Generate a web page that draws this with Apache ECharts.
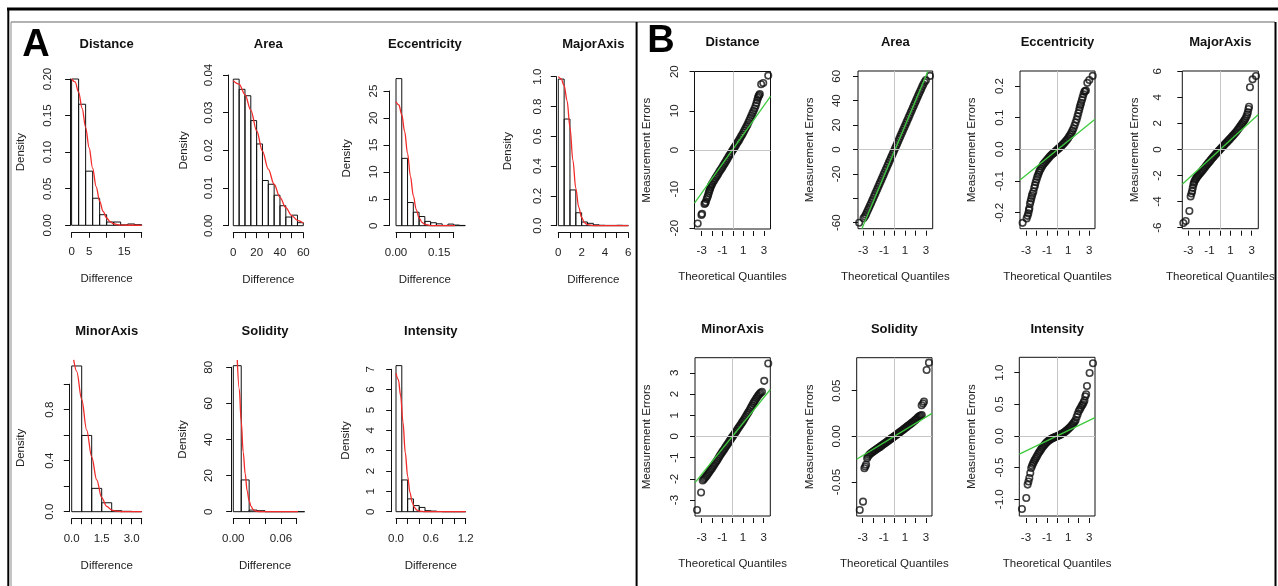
<!DOCTYPE html>
<html>
<head>
<meta charset="utf-8">
<title>Measurement error distributions</title>
<script src="https://cdn.jsdelivr.net/npm/echarts@6/dist/echarts.min.js"></script>
<style>
  html, body { margin: 0; padding: 0; background: #fff; }
  #chart { width: 1278px; height: 586px; }
</style>
</head>
<body>
<div id="chart"></div>
<script>
// ---------------- Panel A: histograms of absolute differences ----------------
const distanceBreaks = [0, 2, 4, 6, 8, 10, 12, 14, 16, 18, 20];
const distanceDensity = [0.200, 0.1655, 0.074, 0.037, 0.0145, 0.0045, 0.0045, 0.0005, 0.0018, 0.0008];
const distanceCurve = [[0, 0.2], [1, 0.196], [2, 0.182], [3, 0.16], [4, 0.134], [5, 0.106], [6, 0.078], [7, 0.053], [8, 0.033], [9, 0.019], [10, 0.010], [11, 0.005], [12, 0.0022], [13, 0.0009], [14, 0.0003], [16, 0.00005], [20, 0]];
const distanceXTicks = [0, 5, 10, 15, 20];
const distanceXLabels = ['0', '5', '', '15', ''];
const distanceYTicks = [0, 0.05, 0.1, 0.15, 0.2];
const distanceYLabels = ['0.00', '0.05', '0.10', '0.15', '0.20'];

const areaBreaks = [0, 5, 10, 15, 20, 25, 30, 35, 40, 45, 50, 55, 60];
const areaDensity = [0.0389, 0.0362, 0.0345, 0.0279, 0.0217, 0.0120, 0.0110, 0.0081, 0.0053, 0.0023, 0.0028, 0.0008];
const areaCurve = [[0, 0.0385], [5, 0.0376], [10, 0.0348], [15, 0.0307], [20, 0.0252], [25, 0.0198], [30, 0.0150], [35, 0.0110], [40, 0.0075], [45, 0.0048], [50, 0.0027], [55, 0.0014], [60, 0.0007]];
const areaXTicks = [0, 10, 20, 30, 40, 50, 60];
const areaXLabels = ['0', '', '20', '', '40', '', '60'];
const areaYTicks = [0, 0.01, 0.02, 0.03, 0.04];
const areaYLabels = ['0.00', '0.01', '0.02', '0.03', '0.04'];

const eccBreaks = [0, 0.02, 0.04, 0.06, 0.08, 0.10, 0.12, 0.14, 0.16, 0.18, 0.20, 0.22, 0.24];
const eccDensity = [27.3, 12.5, 4.3, 2.5, 1.7, 0.8, 0.55, 0.35, 0.05, 0.3, 0.12, 0.05];
const eccCurve = [[0, 23.0], [0.01, 22.4], [0.02, 20.6], [0.03, 17.5], [0.04, 13.4], [0.05, 9.2], [0.06, 5.6], [0.07, 3.0], [0.08, 1.45], [0.09, 0.62], [0.10, 0.24], [0.12, 0.03], [0.15, 0.002], [0.243, 0]];
const eccXTicks = [0, 0.05, 0.10, 0.15, 0.20];
const eccXLabels = ['0.00', '', '', '0.15', ''];
const eccYTicks = [0, 5, 10, 15, 20, 25];
const eccYLabels = ['0', '5', '10', '15', '20', '25'];

const majorBreaks = [0, 0.5, 1, 1.5, 2, 2.5, 3, 3.5, 4, 4.5, 5, 5.5, 6];
const majorDensity = [0.984, 0.716, 0.24, 0.087, 0.025, 0.016, 0.006, 0.003, 0.002, 0.002, 0.003, 0.002];
const majorCurve = [[0, 1.0], [0.25, 0.985], [0.5, 0.94], [0.75, 0.84], [1.0, 0.66], [1.25, 0.44], [1.5, 0.25], [1.75, 0.125], [2.0, 0.055], [2.25, 0.02], [2.5, 0.007], [3.0, 0.001], [6, 0]];
const majorXTicks = [0, 1, 2, 3, 4, 5, 6];
const majorXLabels = ['0', '', '2', '', '4', '', '6'];
const majorYTicks = [0, 0.2, 0.4, 0.6, 0.8, 1.0];
const majorYLabels = ['0.0', '0.2', '0.4', '0.6', '0.8', '1.0'];

const minorBreaks = [0, 0.5, 1, 1.5, 2, 2.5, 3, 3.5];
const minorDensity = [1.143, 0.598, 0.183, 0.07, 0.008, 0.003, 0.001];
const minorCurve = [[0.1, 1.19], [0.25, 1.1], [0.5, 0.88], [0.75, 0.64], [1.0, 0.43], [1.25, 0.25], [1.5, 0.11], [1.75, 0.042], [2.0, 0.013], [2.25, 0.004], [2.5, 0.001], [3.5, 0]];
const minorXTicks = [0, 0.5, 1, 1.5, 2, 2.5, 3, 3.5];
const minorXLabels = ['0.0', '', '', '1.5', '', '', '3.0', ''];
const minorYTicks = [0, 0.2, 0.4, 0.6, 0.8, 1.0];
const minorYLabels = ['0.0', '', '0.4', '', '0.8', ''];

const solidityBreaks = [0, 0.01, 0.02, 0.03, 0.04, 0.05, 0.06, 0.07, 0.08, 0.09];
const solidityDensity = [80.9, 17.6, 0.9, 0.55, 0, 0, 0, 0, 0];
const solidityCurve = [[0.005, 84], [0.0075, 68], [0.01, 50], [0.0125, 33], [0.015, 21], [0.0175, 11.5], [0.02, 6], [0.0225, 2.9], [0.025, 1.3], [0.0275, 0.5], [0.03, 0.2], [0.035, 0.02], [0.088, 0]];
const solidityXTicks = [0, 0.02, 0.04, 0.06, 0.08];
const solidityXLabels = ['0.00', '', '', '0.06', ''];
const solidityYTicks = [0, 20, 40, 60, 80];
const solidityYLabels = ['0', '20', '40', '60', '80'];

const intensityBreaks = [0, 0.1, 0.2, 0.3, 0.4, 0.5, 0.6, 0.7, 0.8, 0.9, 1.0, 1.1, 1.2];
const intensityDensity = [7.18, 1.56, 0.63, 0.3, 0.21, 0.05, 0.03, 0.01, 0, 0, 0, 0];
const intensityCurve = [[0, 6.8], [0.04, 6.5], [0.08, 5.7], [0.12, 4.4], [0.16, 2.9], [0.2, 1.75], [0.24, 0.95], [0.28, 0.45], [0.32, 0.2], [0.36, 0.08], [0.4, 0.03], [0.5, 0.002], [1.2, 0]];
const intensityXTicks = [0, 0.2, 0.4, 0.6, 0.8, 1.0, 1.2];
const intensityXLabels = ['0.0', '', '', '0.6', '', '', '1.2'];
const intensityYTicks = [0, 1, 2, 3, 4, 5, 6, 7];
const intensityYLabels = ['0', '1', '2', '3', '4', '5', '6', '7'];

// ---------------- Panel B: normal Q-Q plots of signed errors ----------------
const qqXTicks = [-3, -2, -1, 0, 1, 2, 3];
const qqXLabels = ['-3', '', '-1', '', '1', '', '3'];

const distanceQQ = [[-3.38, -18.8], [-3.02, -16.6], [-2.96, -16.3], [-2.73, -13.8], [-2.66, -13.6], [-2.6, -13.3], [-2.52, -12.6], [-2.45, -12.1], [-2.38, -11.6], [-2.32, -11.0], [-2.26, -10.5], [-2.2, -10.0], [-2.15, -9.6], [-2.1, -9.2], [-2.05, -8.9],
  [-2.0, -8.7], [-1.9, -8.2], [-1.8, -7.8], [-1.7, -7.3], [-1.6, -6.9], [-1.5, -6.5], [-1.4, -6.1], [-1.3, -5.6], [-1.2, -5.2], [-1.1, -4.8], [-1.0, -4.4], [-0.9, -3.9], [-0.8, -3.5], [-0.7, -3.1], [-0.6, -2.6], [-0.5, -2.2], [-0.4, -1.7], [-0.3, -1.3], [-0.2, -0.9], [-0.1, -0.4],
  [0, 0], [0.1, 0.4], [0.2, 0.8], [0.3, 1.2], [0.4, 1.7], [0.5, 2.1], [0.6, 2.5], [0.7, 3.0], [0.8, 3.5], [0.9, 3.9], [1.0, 4.4], [1.1, 4.9], [1.2, 5.4], [1.3, 5.9], [1.4, 6.4], [1.5, 7.0], [1.6, 7.6], [1.7, 8.2], [1.8, 8.8], [1.9, 9.4],
  [2.0, 10.0], [2.1, 10.6], [2.2, 11.3], [2.28, 12.0], [2.35, 12.7], [2.42, 13.3], [2.48, 13.7], [2.54, 14.0], [2.6, 14.3], [2.73, 16.8], [2.93, 17.1], [3.41, 19.0]];
const distanceQQLine = [[-3.69, -13.6], [3.63, 13.7]];
const distanceQQYTicks = [-20, -10, 0, 10, 20];
const distanceQQYLabels = ['-20', '-10', '0', '10', '20'];

const areaQQ = [[-3.39, -60.0], [-2.97, -56.4], [-2.85, -55.0], [-2.75, -53.4], [-2.65, -51.5], [-2.55, -49.6], [-2.45, -47.8], [-2.35, -45.9], [-2.25, -44.0], [-2.15, -42.1], [-2.05, -40.1], [-1.95, -38.2], [-1.85, -36.2], [-1.75, -34.3], [-1.65, -32.3], [-1.55, -30.3], [-1.45, -28.4], [-1.35, -26.4], [-1.25, -24.5], [-1.15, -22.5], [-1.05, -20.6], [-0.95, -18.6], [-0.85, -16.7], [-0.75, -14.7], [-0.65, -12.8], [-0.55, -10.8], [-0.45, -8.9], [-0.35, -6.9], [-0.25, -5.0], [-0.15, -3.0], [-0.05, -1.1],
  [0.05, 0.9], [0.15, 2.9], [0.25, 4.8], [0.35, 6.8], [0.45, 8.7], [0.55, 10.7], [0.65, 12.6], [0.75, 14.6], [0.85, 16.5], [0.95, 18.5], [1.05, 20.4], [1.15, 22.4], [1.25, 24.3], [1.35, 26.3], [1.45, 28.3], [1.55, 30.2], [1.65, 32.2], [1.75, 34.1], [1.85, 36.1], [1.95, 38.0], [2.05, 40.0], [2.15, 41.9], [2.25, 43.9], [2.35, 45.8], [2.45, 47.7], [2.55, 49.6], [2.65, 51.5], [2.75, 53.3], [2.87, 55.2], [3.0, 56.8], [3.39, 60.3]];
const areaQQLine = [[-3.13, -64.9], [3.19, 64.1]];
const areaQQYTicks = [-60, -40, -20, 0, 20, 40, 60];
const areaQQYLabels = ['-60', '', '-20', '0', '20', '40', '60'];

const eccQQ = [[-3.32, -0.232], [-2.94, -0.218], [-2.85, -0.21], [-2.78, -0.202], [-2.72, -0.192], [-2.68, -0.186], [-2.62, -0.172], [-2.56, -0.164], [-2.5, -0.155], [-2.44, -0.147], [-2.38, -0.14], [-2.3, -0.133], [-2.22, -0.121], [-2.15, -0.113], [-2.08, -0.104], [-2.0, -0.095], [-1.93, -0.087], [-1.85, -0.08], [-1.77, -0.073], [-1.7, -0.067], [-1.6, -0.061], [-1.5, -0.055], [-1.4, -0.049], [-1.3, -0.045], [-1.2, -0.041], [-1.1, -0.037], [-1.0, -0.033], [-0.9, -0.029], [-0.8, -0.025], [-0.7, -0.021], [-0.6, -0.018], [-0.5, -0.015], [-0.4, -0.012], [-0.3, -0.009], [-0.2, -0.006], [-0.1, -0.003],
  [0, 0], [0.1, 0.003], [0.2, 0.006], [0.3, 0.009], [0.4, 0.012], [0.5, 0.016], [0.6, 0.019], [0.7, 0.023], [0.8, 0.027], [0.9, 0.031], [1.0, 0.036], [1.1, 0.041], [1.2, 0.046], [1.3, 0.052], [1.4, 0.059], [1.5, 0.066], [1.6, 0.075], [1.7, 0.085], [1.8, 0.094], [1.88, 0.104], [1.96, 0.114], [2.04, 0.124], [2.1, 0.133], [2.16, 0.14], [2.22, 0.147], [2.3, 0.156], [2.37, 0.164], [2.45, 0.174], [2.53, 0.182], [2.6, 0.184], [2.68, 0.186], [2.81, 0.21], [3.0, 0.219], [3.32, 0.232]];
const eccQQLine = [[-3.57, -0.097], [3.54, 0.095]];
const eccQQYTicks = [-0.2, -0.1, 0, 0.1, 0.2];
const eccQQYLabels = ['-0.2', '-0.1', '0.0', '0.1', '0.2'];

const majorQQ = [[-3.47, -5.64], [-3.25, -5.49], [-2.9, -4.72], [-2.78, -3.6], [-2.7, -3.38], [-2.64, -3.2], [-2.58, -2.95], [-2.52, -2.7], [-2.46, -2.55], [-2.4, -2.42], [-2.32, -2.3], [-2.24, -2.2], [-2.16, -2.1], [-2.08, -2.02], [-2.0, -1.94], [-1.9, -1.85], [-1.8, -1.75], [-1.7, -1.65], [-1.6, -1.55], [-1.5, -1.45], [-1.4, -1.35], [-1.3, -1.24], [-1.2, -1.13], [-1.1, -1.03], [-1.0, -0.94], [-0.9, -0.84], [-0.8, -0.74], [-0.7, -0.64], [-0.6, -0.55], [-0.5, -0.45], [-0.4, -0.36], [-0.3, -0.27], [-0.2, -0.18], [-0.1, -0.09],
  [0, 0], [0.1, 0.09], [0.2, 0.17], [0.3, 0.26], [0.4, 0.34], [0.5, 0.43], [0.6, 0.51], [0.7, 0.6], [0.8, 0.68], [0.9, 0.77], [1.0, 0.86], [1.1, 0.95], [1.2, 1.04], [1.3, 1.13], [1.4, 1.22], [1.5, 1.32], [1.6, 1.42], [1.7, 1.53], [1.8, 1.64], [1.9, 1.75], [2.0, 1.87], [2.1, 1.98], [2.2, 2.1], [2.3, 2.22], [2.4, 2.36], [2.5, 2.52], [2.58, 2.68], [2.64, 2.86], [2.7, 3.1], [2.75, 3.28], [2.84, 4.77], [3.09, 5.38], [3.41, 5.64]];
const majorQQLine = [[-3.57, -2.67], [3.63, 2.69]];
const majorQQYTicks = [-6, -4, -2, 0, 2, 4, 6];
const majorQQYLabels = ['-6', '-4', '-2', '0', '2', '4', '6'];

const minorQQ = [[-3.45, -3.47], [-3.06, -2.64], [-2.9, -2.08], [-2.8, -2.02], [-2.7, -1.96], [-2.6, -1.9], [-2.5, -1.84], [-2.4, -1.77], [-2.3, -1.7], [-2.2, -1.63], [-2.1, -1.56], [-2.0, -1.5], [-1.9, -1.42], [-1.8, -1.35], [-1.7, -1.27], [-1.6, -1.19], [-1.5, -1.12], [-1.4, -1.04], [-1.3, -0.96], [-1.2, -0.88], [-1.1, -0.81], [-1.0, -0.73], [-0.9, -0.66], [-0.8, -0.59], [-0.7, -0.51], [-0.6, -0.44], [-0.5, -0.37], [-0.4, -0.3], [-0.3, -0.22], [-0.2, -0.15], [-0.1, -0.07],
  [0, 0], [0.1, 0.07], [0.2, 0.14], [0.3, 0.21], [0.4, 0.28], [0.5, 0.36], [0.6, 0.43], [0.7, 0.5], [0.8, 0.57], [0.9, 0.65], [1.0, 0.72], [1.1, 0.8], [1.2, 0.88], [1.3, 0.96], [1.4, 1.04], [1.5, 1.12], [1.6, 1.2], [1.7, 1.29], [1.8, 1.38], [1.9, 1.47], [2.0, 1.56], [2.1, 1.64], [2.2, 1.72], [2.3, 1.8], [2.4, 1.87], [2.5, 1.94], [2.6, 2.0], [2.7, 2.05], [2.84, 2.1], [3.06, 2.62], [3.45, 3.44]];
const minorQQLine = [[-3.65, -2.18], [3.65, 2.21]];
const minorQQYTicks = [-3, -2, -1, 0, 1, 2, 3];
const minorQQYLabels = ['-3', '-2', '-1', '0', '1', '2', '3'];

const solidityQQ = [[-3.28, -0.0807], [-2.97, -0.0715], [-2.84, -0.035], [-2.76, -0.033], [-2.68, -0.031], [-2.58, -0.024], [-2.5, -0.022], [-2.4, -0.0205], [-2.3, -0.0193], [-2.2, -0.0183], [-2.1, -0.0175], [-2.0, -0.0167], [-1.9, -0.0158], [-1.8, -0.015], [-1.7, -0.0142], [-1.6, -0.0134], [-1.5, -0.0126], [-1.4, -0.0118], [-1.3, -0.011], [-1.2, -0.0101], [-1.1, -0.0093], [-1.0, -0.0084], [-0.9, -0.0076], [-0.8, -0.0067], [-0.7, -0.0059], [-0.6, -0.005], [-0.5, -0.0042], [-0.4, -0.0033], [-0.3, -0.0025], [-0.2, -0.0017], [-0.1, -0.0008],
  [0, 0], [0.1, 0.0009], [0.2, 0.0017], [0.3, 0.0026], [0.4, 0.0035], [0.5, 0.0043], [0.6, 0.0052], [0.7, 0.0061], [0.8, 0.007], [0.9, 0.0079], [1.0, 0.0088], [1.1, 0.0097], [1.2, 0.0106], [1.3, 0.0115], [1.4, 0.0124], [1.5, 0.0133], [1.6, 0.0142], [1.7, 0.0151], [1.8, 0.016], [1.9, 0.017], [2.0, 0.018], [2.1, 0.019], [2.2, 0.0202], [2.3, 0.0213], [2.4, 0.0222], [2.5, 0.0228], [2.6, 0.0234], [2.59, 0.034], [2.72, 0.036], [2.81, 0.038], [3.06, 0.0726], [3.28, 0.0807]];
const solidityQQLine = [[-3.57, -0.025], [3.57, 0.0252]];
const solidityQQYTicks = [-0.05, 0, 0.05];
const solidityQQYLabels = ['-0.05', '0.00', '0.05'];

const intensityQQ = [[-3.38, -1.153], [-2.97, -0.979], [-2.84, -0.768], [-2.76, -0.72], [-2.68, -0.663], [-2.59, -0.584], [-2.5, -0.505], [-2.42, -0.47], [-2.34, -0.44], [-2.26, -0.41], [-2.18, -0.385], [-2.1, -0.36], [-2.0, -0.33], [-1.9, -0.3], [-1.8, -0.27], [-1.7, -0.245], [-1.6, -0.22], [-1.5, -0.195], [-1.4, -0.172], [-1.3, -0.15], [-1.2, -0.13], [-1.1, -0.112], [-1.0, -0.095], [-0.9, -0.08], [-0.8, -0.067], [-0.7, -0.055], [-0.6, -0.045], [-0.5, -0.037], [-0.4, -0.029], [-0.3, -0.021], [-0.2, -0.014], [-0.1, -0.007],
  [0, 0], [0.1, 0.008], [0.2, 0.016], [0.3, 0.025], [0.4, 0.034], [0.5, 0.044], [0.6, 0.055], [0.7, 0.067], [0.8, 0.08], [0.9, 0.095], [1.0, 0.11], [1.1, 0.126], [1.2, 0.143], [1.3, 0.162], [1.4, 0.182], [1.5, 0.203], [1.6, 0.226], [1.7, 0.25], [1.8, 0.3], [1.9, 0.345], [2.0, 0.39], [2.1, 0.42], [2.2, 0.45], [2.3, 0.48], [2.38, 0.5], [2.46, 0.53], [2.54, 0.56], [2.62, 0.626], [2.7, 0.66], [2.78, 0.79], [3.03, 0.995], [3.35, 1.15]];
const intensityQQLine = [[-3.63, -0.287], [3.54, 0.289]];
const intensityQQYTicks = [-1, -0.5, 0, 0.5, 1];
const intensityQQYLabels = ['-1.0', '-0.5', '0.0', '0.5', '1.0'];

// ---------------- styling ----------------
const FONT = '"Liberation Sans", Arial, Helvetica, sans-serif';
const INK = '#111';
const TEXT = '#222';
const RED = '#f22a2a';
const GREEN = '#3dc93d';
const GUIDE = '#c6c6c6';
const TICK_FONT = 11.5;

function labelLookup(ticks, labels) {
  return function (v) {
    for (let i = 0; i < ticks.length; i++) {
      if (Math.abs(ticks[i] - v) < 1e-9) return labels[i];
    }
    return '';
  };
}

function histBar(params, api) {
  const a = api.coord([api.value(0), api.value(2)]);
  const b = api.coord([api.value(1), 0]);
  return {
    type: 'rect',
    shape: { x: a[0], y: a[1], width: b[0] - a[0], height: b[1] - a[1] },
    style: { fill: 'none', stroke: INK, lineWidth: 1 }
  };
}

const grids = [], xAxes = [], yAxes = [], series = [];
const graphics = [];

function title(text, x, y) {
  graphics.push({
    type: 'text', x: x, y: y, silent: true,
    style: { text: text, fill: INK, font: 'bold 13px ' + FONT, textAlign: 'center', textVerticalAlign: 'middle' }
  });
}

function axisName(text) {
  return { name: text, nameLocation: 'middle', nameTextStyle: { color: TEXT, fontSize: TICK_FONT, fontFamily: FONT } };
}

// one histogram with its density curve
function addHist(p) {
  const gi = grids.length;
  grids.push({ left: p.left, top: p.top, width: p.width, height: p.height, outerBoundsMode: 'none', containLabel: false });
  xAxes.push(Object.assign({
    gridIndex: gi, type: 'value',
    min: p.xTicks[0], max: p.xTicks[p.xTicks.length - 1],
    interval: p.xTicks[1] - p.xTicks[0],
    offset: p.xOffset,
    axisLine: { show: true, onZero: false, lineStyle: { color: INK, width: 1 } },
    axisTick: { show: true, length: 5.5, customValues: p.xTicks, lineStyle: { color: INK, width: 1 } },
    axisLabel: { customValues: p.xTicks, formatter: labelLookup(p.xTicks, p.xLabels), margin: 14, color: TEXT, fontSize: TICK_FONT, fontFamily: FONT, showMinLabel: true, showMaxLabel: true, hideOverlap: false },
    splitLine: { show: false }, nameGap: 41
  }, axisName('Difference')));
  yAxes.push(Object.assign({
    gridIndex: gi, type: 'value',
    min: p.yTicks[0], max: p.yTicks[p.yTicks.length - 1],
    interval: p.yTicks[1] - p.yTicks[0],
    offset: p.yOffset,
    axisLine: { show: true, onZero: false, lineStyle: { color: INK, width: 1 } },
    axisTick: { show: true, length: 5.5, customValues: p.yTicks, lineStyle: { color: INK, width: 1 } },
    axisLabel: { customValues: p.yTicks, formatter: labelLookup(p.yTicks, p.yLabels), rotate: 90, margin: p.yLabelMargin, color: TEXT, fontSize: TICK_FONT, fontFamily: FONT, showMinLabel: true, showMaxLabel: true, hideOverlap: false },
    splitLine: { show: false }, nameGap: p.yNameGap
  }, axisName('Density')));
  series.push({
    type: 'custom', xAxisIndex: gi, yAxisIndex: gi, clip: false, silent: true, z: 2,
    renderItem: histBar, encode: { x: [0, 1], y: 2 },
    data: p.heights.map((h, i) => [p.breaks[i], p.breaks[i + 1], h])
  });
  series.push({
    type: 'line', xAxisIndex: gi, yAxisIndex: gi, clip: false, silent: true, z: 3,
    data: p.curve, smooth: 0.35, smoothMonotone: 'x', symbol: 'none',
    lineStyle: { color: RED, width: 1.3 }
  });
  title(p.title, p.left + p.width / 2, p.titleY);
}

// one normal Q-Q plot with reference line
function addQQ(p) {
  const gi = grids.length;
  grids.push({ left: p.left, top: p.top, width: p.width, height: p.height, show: true, borderColor: INK, borderWidth: 1, backgroundColor: 'transparent', outerBoundsMode: 'none', containLabel: false });
  xAxes.push(Object.assign({
    gridIndex: gi, type: 'value', min: p.xRange[0], max: p.xRange[1], offset: 2,
    axisLine: { show: false, onZero: false },
    axisTick: { show: true, length: 5, customValues: qqXTicks, lineStyle: { color: INK, width: 1 } },
    axisLabel: { customValues: qqXTicks, formatter: labelLookup(qqXTicks, qqXLabels), margin: 14, color: TEXT, fontSize: TICK_FONT, fontFamily: FONT, hideOverlap: false },
    splitLine: { show: false }, nameGap: 40
  }, axisName('Theoretical Quantiles')));
  yAxes.push(Object.assign({
    gridIndex: gi, type: 'value', min: p.yRange[0], max: p.yRange[1],
    axisLine: { show: false, onZero: false },
    axisTick: { show: true, length: 5, customValues: p.yTicks, lineStyle: { color: INK, width: 1 } },
    axisLabel: { customValues: p.yTicks, formatter: labelLookup(p.yTicks, p.yLabels), rotate: 90, margin: p.yLabelMargin, color: TEXT, fontSize: TICK_FONT, fontFamily: FONT, hideOverlap: false },
    splitLine: { show: false }, nameGap: p.yNameGap
  }, axisName('Measurement Errors')));
  // light guides through the origin
  series.push({
    type: 'scatter', xAxisIndex: gi, yAxisIndex: gi, silent: true, z: 1,
    data: [[0, 0]], symbolSize: 0,
    markLine: {
      silent: true, symbol: ['none', 'none'], label: { show: false }, animation: false,
      lineStyle: { color: GUIDE, type: 'solid', width: 1 },
      data: [{ xAxis: 0 }, { yAxis: 0 }]
    }
  });
  series.push({
    type: 'scatter', xAxisIndex: gi, yAxisIndex: gi, silent: true, z: 2,
    data: p.points, symbol: 'circle', symbolSize: 6.5,
    itemStyle: { color: 'rgba(0,0,0,0)', borderColor: INK, borderWidth: 1.6 }
  });
  series.push({
    type: 'line', xAxisIndex: gi, yAxisIndex: gi, silent: true, z: 3, clip: true,
    data: p.line, symbol: 'none', lineStyle: { color: GREEN, width: 1.3 }
  });
  title(p.title, p.left + p.width / 2, p.titleY);
}

// ---------------- panel A ----------------
addHist({ title: 'Distance', titleY: 44.7, left: 71.6, top: 79, width: 70.1, height: 146.3, xOffset: 7, yOffset: 1, yLabelMargin: 16.5, yNameGap: 44,
  breaks: distanceBreaks, heights: distanceDensity, curve: distanceCurve, xTicks: distanceXTicks, xLabels: distanceXLabels, yTicks: distanceYTicks, yLabels: distanceYLabels });
addHist({ title: 'Area', titleY: 44.7, left: 233.3, top: 75, width: 70, height: 150.7, xOffset: 7, yOffset: 4.8, yLabelMargin: 13.5, yNameGap: 39,
  breaks: areaBreaks, heights: areaDensity, curve: areaCurve, xTicks: areaXTicks, xLabels: areaXLabels, yTicks: areaYTicks, yLabels: areaYLabels });
addHist({ title: 'Eccentricity', titleY: 44.7, left: 396, top: 91, width: 57.7, height: 134.7, xOffset: 6.8, yOffset: 7, yLabelMargin: 9, yNameGap: 36.5,
  breaks: eccBreaks, heights: eccDensity, curve: eccCurve, xTicks: eccXTicks, xLabels: eccXLabels, yTicks: eccYTicks, yLabels: eccYLabels });
addHist({ title: 'MajorAxis', titleY: 44.7, left: 558.3, top: 76.7, width: 70, height: 149, xOffset: 6.8, yOffset: 2, yLabelMargin: 12.8, yNameGap: 42,
  breaks: majorBreaks, heights: majorDensity, curve: majorCurve, xTicks: majorXTicks, xLabels: majorXLabels, yTicks: majorYTicks, yLabels: majorYLabels });
addHist({ title: 'MinorAxis', titleY: 331.7, left: 71.7, top: 384.2, width: 70, height: 127.5, xOffset: 7, yOffset: 2.4, yLabelMargin: 13.8, yNameGap: 42.8,
  breaks: minorBreaks, heights: minorDensity, curve: minorCurve, xTicks: minorXTicks, xLabels: minorXLabels, yTicks: minorYTicks, yLabels: minorYLabels });
addHist({ title: 'Solidity', titleY: 331.7, left: 233.3, top: 367.3, width: 63.4, height: 144.4, xOffset: 6.8, yOffset: 1.6, yLabelMargin: 16.9, yNameGap: 42.5,
  breaks: solidityBreaks, heights: solidityDensity, curve: solidityCurve, xTicks: solidityXTicks, xLabels: solidityXLabels, yTicks: solidityYTicks, yLabels: solidityYLabels });
addHist({ title: 'Intensity', titleY: 331.7, left: 396, top: 369.3, width: 69.7, height: 142.4, xOffset: 6.8, yOffset: 4.3, yLabelMargin: 15.2, yNameGap: 40.2,
  breaks: intensityBreaks, heights: intensityDensity, curve: intensityCurve, xTicks: intensityXTicks, xLabels: intensityXLabels, yTicks: intensityYTicks, yLabels: intensityYLabels });

// ---------------- panel B ----------------
addQQ({ title: 'Distance', titleY: 42.3, left: 694.5, top: 71.5, width: 76, height: 157.5, xRange: [-3.69, 3.63], yRange: [-20.2, 20.05], yLabelMargin: 14, yNameGap: 42,
  points: distanceQQ, line: distanceQQLine, yTicks: distanceQQYTicks, yLabels: distanceQQYLabels });
addQQ({ title: 'Area', titleY: 42.3, left: 858, top: 71, width: 74.7, height: 157.7, xRange: [-3.5, 3.65], yRange: [-64.9, 64.3], yLabelMargin: 15.5, yNameGap: 42,
  points: areaQQ, line: areaQQLine, yTicks: areaQQYTicks, yLabels: areaQQYLabels });
addQQ({ title: 'Eccentricity', titleY: 42.3, left: 1020, top: 71, width: 75, height: 157.7, xRange: [-3.57, 3.54], yRange: [-0.2505, 0.2474], yLabelMargin: 14, yNameGap: 42,
  points: eccQQ, line: eccQQLine, yTicks: eccQQYTicks, yLabels: eccQQYLabels });
addQQ({ title: 'MajorAxis', titleY: 42.3, left: 1182.3, top: 71, width: 76, height: 157.7, xRange: [-3.57, 3.63], yRange: [-6.08, 6.02], yLabelMargin: 18.5, yNameGap: 41.5,
  points: majorQQ, line: majorQQLine, yTicks: majorQQYTicks, yLabels: majorQQYLabels });
addQQ({ title: 'MinorAxis', titleY: 329, left: 695, top: 357.7, width: 75.3, height: 158.3, xRange: [-3.65, 3.65], yRange: [-3.75, 3.71], yLabelMargin: 14, yNameGap: 42.5,
  points: minorQQ, line: minorQQLine, yTicks: minorQQYTicks, yLabels: minorQQYLabels });
addQQ({ title: 'Solidity', titleY: 329, left: 856.7, top: 357.7, width: 75.3, height: 158.3, xRange: [-3.57, 3.57], yRange: [-0.0872, 0.0861], yLabelMargin: 14, yNameGap: 41,
  points: solidityQQ, line: solidityQQLine, yTicks: solidityQQYTicks, yLabels: solidityQQYLabels });
addQQ({ title: 'Intensity', titleY: 329, left: 1019.3, top: 357.3, width: 75.7, height: 158.7, xRange: [-3.63, 3.54], yRange: [-1.264, 1.243], yLabelMargin: 13.5, yNameGap: 41,
  points: intensityQQ, line: intensityQQLine, yTicks: intensityQQYTicks, yLabels: intensityQQYLabels });

// ---------------- figure frame and panel letters ----------------
function rule(x1, y1, x2, y2, color, w) {
  graphics.push({ type: 'line', silent: true, shape: { x1: x1, y1: y1, x2: x2, y2: y2 }, style: { stroke: color, lineWidth: w } });
}
rule(7, 9, 1278, 9, '#000', 3);
rule(8.3, 8, 8.3, 586, '#000', 2);
rule(11, 22, 1275, 22, '#666', 1.2);
rule(11, 22, 11, 586, '#8a8a8a', 1);
rule(636.6, 22, 636.6, 586, '#000', 2);
rule(1275.5, 22, 1275.5, 586, '#000', 2);

graphics.push({ type: 'text', x: 36, y: 45.5, silent: true,
  style: { text: 'A', fill: '#000', font: 'bold 38px ' + FONT, textAlign: 'center', textVerticalAlign: 'middle' } });
graphics.push({ type: 'text', x: 661, y: 41.7, silent: true,
  style: { text: 'B', fill: '#000', font: 'bold 38px ' + FONT, textAlign: 'center', textVerticalAlign: 'middle' } });

const chart = echarts.init(document.getElementById('chart'), null, { renderer: 'canvas' });
chart.setOption({
  backgroundColor: '#fff',
  animation: false,
  textStyle: { fontFamily: FONT },
  grid: grids,
  xAxis: xAxes,
  yAxis: yAxes,
  series: series,
  graphic: graphics
});
</script>
</body>
</html>
